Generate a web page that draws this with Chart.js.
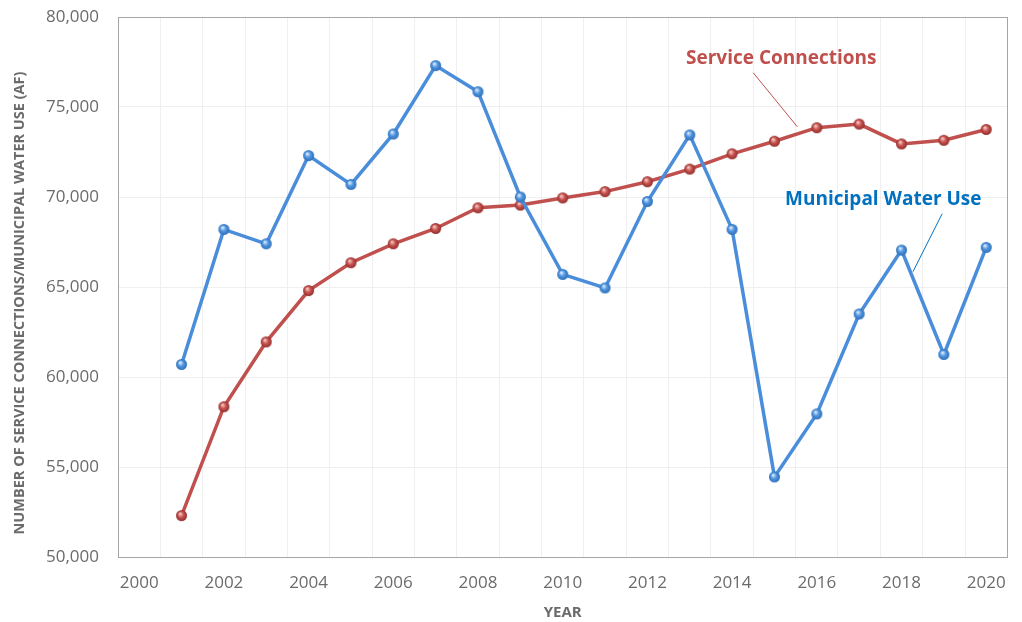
<!DOCTYPE html>
<html>
<head>
<meta charset="utf-8">
<script src="https://cdn.jsdelivr.net/npm/chart.js@4/dist/chart.umd.min.js"></script>
<style>
  html, body { margin: 0; padding: 0; background: #fff; }
  #wrap { width: 1022px; height: 622px; }
</style>
</head>
<body>
<div id="wrap"><canvas id="waterChart" width="1022" height="622"></canvas></div>
<script>
// years on the category axis (2000 has no data)
const years = ['2000', '2001', '2002', '2003', '2004', '2005', '2006', '2007', '2008', '2009', '2010',
               '2011', '2012', '2013', '2014', '2015', '2016', '2017', '2018', '2019', '2020'];

const municipalWaterUse = [null, 60700, 68200, 67400, 72300, 70700, 73500, 77300, 75850, 70000, 65700,
                           64950, 69750, 73450, 68200, 54450, 57950, 63500, 67050, 61250, 67200];

const serviceConnections = [null, 52300, 58350, 61950, 64800, 66350, 67400, 68250, 69400, 69550, 69950,
                            70300, 70850, 71550, 72400, 73100, 73850, 74050, 72950, 73150, 73750];

const BLUE = '#4a8edb';
const RED = '#c0504d';
const AXIS_GREY = '#6b6b6b';

// small shaded ball used as the point marker
function makeBall(color, light, edge) {
    const r = 5.5;
    const c = document.createElement('canvas');
    c.width = c.height = r * 2 + 2;
    const ctx = c.getContext('2d');
    const g = ctx.createRadialGradient(r - 0.5, r - 1, 0.3, r + 1, r + 1, r);
    g.addColorStop(0, light);
    g.addColorStop(0.5, color);
    g.addColorStop(1, edge);
    ctx.fillStyle = g;
    ctx.beginPath();
    ctx.arc(r + 1, r + 1, r, 0, Math.PI * 2);
    ctx.fill();
    return c;
}

// labels with leader lines, anchored in data space
const callouts = [
    { text: 'Service Connections', color: '#c0504d', x: 15.16, y: 77700, from: [14.5, 76900], to: [15.54, 73900] },
    { text: 'Municipal Water Use', color: '#0070c0', x: 17.57, y: 69850, from: [18.96, 69070], to: [18.27, 65850] }
];

const calloutPlugin = {
    id: 'callouts',
    afterDatasetsDraw(chart) {
        const ctx = chart.ctx;
        const xs = chart.scales.x, ys = chart.scales.y;
        ctx.save();
        callouts.forEach(c => {
            ctx.strokeStyle = c.color;
            ctx.lineWidth = 1;
            ctx.beginPath();
            ctx.moveTo(xs.getPixelForValue(c.from[0]), ys.getPixelForValue(c.from[1]));
            ctx.lineTo(xs.getPixelForValue(c.to[0]), ys.getPixelForValue(c.to[1]));
            ctx.stroke();
            ctx.fillStyle = c.color;
            ctx.font = 'bold 19px "Open Sans"';
            ctx.textAlign = 'center';
            ctx.textBaseline = 'middle';
            ctx.fillText(c.text, xs.getPixelForValue(c.x), ys.getPixelForValue(c.y));
        });
        ctx.restore();
    }
};

// frame round the plot area, plus the vertical axis title (sits a little below centre)
const framePlugin = {
    id: 'frame',
    afterDraw(chart) {
        const a = chart.chartArea;
        const ctx = chart.ctx;
        ctx.save();
        ctx.strokeStyle = '#a6a6a6';
        ctx.lineWidth = 1;
        ctx.strokeRect(Math.round(a.left) + 0.5, Math.round(a.top) + 0.5,
                       Math.round(a.right - a.left), Math.round(a.bottom - a.top));

        ctx.translate(20, (a.top + a.bottom) / 2 + 16);
        ctx.rotate(-Math.PI / 2);
        ctx.fillStyle = AXIS_GREY;
        ctx.font = 'bold 14.5px "Open Sans"';
        ctx.textAlign = 'center';
        ctx.textBaseline = 'middle';
        ctx.fillText('NUMBER OF SERVICE CONNECTIONS/MUNICIPAL WATER USE (AF)', 0, 0);
        ctx.restore();
    }
};

new Chart(document.getElementById('waterChart'), {
    type: 'line',
    data: {
        labels: years,
        datasets: [
            {
                label: 'Municipal Water Use',
                data: municipalWaterUse,
                borderColor: BLUE,
                borderWidth: 3.5,
                pointStyle: makeBall('#4f95e0', '#e3f0fd', '#2f6fb8'),
                pointRadius: 5.5,
                tension: 0
            },
            {
                label: 'Service Connections',
                data: serviceConnections,
                borderColor: RED,
                borderWidth: 3.5,
                pointStyle: makeBall('#c9524e', '#f7d0ce', '#8e2f2c'),
                pointRadius: 5.5,
                tension: 0
            }
        ]
    },
    options: {
        responsive: false,
        animation: false,
        layout: { padding: { left: 0, right: 14, top: 17, bottom: 0 } },
        plugins: {
            legend: { display: false },
            tooltip: { enabled: false }
        },
        scales: {
            x: {
                type: 'category',
                offset: true,
                grid: { offset: true, color: '#efefef', drawTicks: false },
                border: { display: false },
                ticks: {
                    autoSkip: false,
                    maxRotation: 0,
                    padding: 16,
                    color: AXIS_GREY,
                    font: { family: 'Open Sans', size: 17 },
                    callback: function(value) {
                        const y = parseInt(this.getLabelForValue(value));
                        return y % 2 === 0 ? String(y) : '';
                    }
                },
                title: {
                    display: true,
                    text: 'YEAR',
                    color: AXIS_GREY,
                    font: { family: 'Open Sans', size: 15, weight: 'bold' },
                    padding: { top: 0, bottom: 0 }
                },
                afterFit(scale) { scale.height = 65; }
            },
            y: {
                min: 50000,
                max: 80000,
                grid: { color: '#efefef', drawTicks: false },
                border: { display: false },
                ticks: {
                    stepSize: 5000,
                    padding: 19,
                    color: AXIS_GREY,
                    font: { family: 'Open Sans', size: 17 },
                    callback: v => v.toLocaleString('en-US')
                },
                afterFit(scale) {
                    scale.width = 118;
                    // tick padding would otherwise push the plot top down
                    scale.paddingTop = 0;
                    scale.paddingBottom = 0;
                }
            }
        }
    },
    plugins: [calloutPlugin, framePlugin]
});
</script>
</body>
</html>
